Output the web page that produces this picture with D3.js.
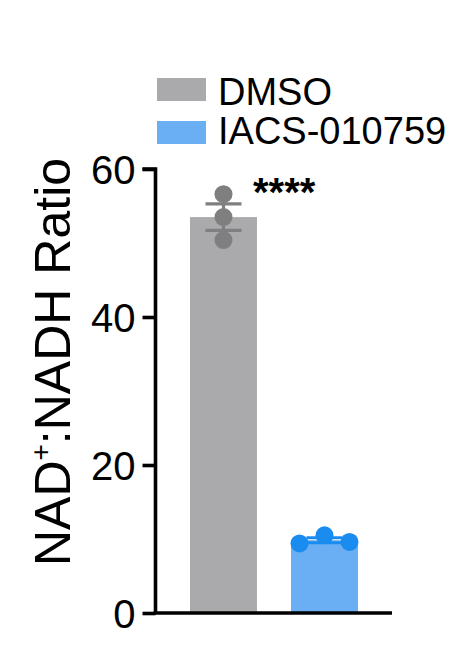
<!DOCTYPE html>
<html>
<head>
<meta charset="utf-8">
<script src="https://cdn.jsdelivr.net/npm/d3@7"></script>
<style>
  html, body { margin: 0; padding: 0; background: #fff; }
  svg { display: block; font-family: "Liberation Sans", Arial, Helvetica, sans-serif; }
</style>
</head>
<body>
<svg id="chart" width="458" height="664"></svg>
<script>
// ---- data ----
const categories = ["DMSO", "IACS-010759"];
const dmsoValues = [56.6, 53.5, 50.4];
const iacsValues = [9.4, 10.5, 9.6];
const yTicks = [0, 20, 40, 60];
const significance = "****";
const yTitle = ["NAD", "+", ":NADH Ratio"];

// ---- style ----
const barColors = ["#aaaaac", "#6aaff4"];
const dotColors = ["#7f7f7f", "#1a8cef"];
const series = [dmsoValues, iacsValues];
const dotSpread = [[0, 0, 0], [-1, 0, 1]]; // horizontal spreading of overlapping dots (x step units)

const svg = d3.select("#chart");

const y = d3.scaleLinear().domain([0, 60]).range([613, 169]);
const x = d3.scaleBand().domain(categories).range([190, 358]).paddingInner(0.337).paddingOuter(0);

const mean = a => d3.mean(a);
const sem = a => d3.deviation(a) / Math.sqrt(a.length);

// bars
svg.append("g").selectAll("rect")
  .data(categories)
  .join("rect")
  .attr("x", d => x(d))
  .attr("width", x.bandwidth())
  .attr("y", (d, i) => y(mean(series[i])))
  .attr("height", (d, i) => y(0) - y(mean(series[i])))
  .attr("fill", (d, i) => barColors[i]);

// dots
categories.forEach((c, i) => {
  const cx = x(c) + x.bandwidth() / 2;
  svg.append("g").selectAll("circle")
    .data(series[i])
    .join("circle")
    .attr("cx", (d, j) => cx + dotSpread[i][j] * 25)
    .attr("cy", d => y(d))
    .attr("r", 9)
    .attr("fill", dotColors[i]);
});

// error bars (mean ± SEM)
categories.forEach((c, i) => {
  const cx = x(c) + x.bandwidth() / 2;
  const m = mean(series[i]), s = sem(series[i]);
  const g = svg.append("g").attr("stroke", dotColors[i]).attr("stroke-width", 3.2);
  g.append("line").attr("x1", cx).attr("x2", cx).attr("y1", y(m + s)).attr("y2", y(m - s));
  [m + s, m - s].forEach(v => {
    g.append("line").attr("x1", cx - 18).attr("x2", cx + 18).attr("y1", y(v)).attr("y2", y(v));
  });
});

// y axis
const yAxis = d3.axisLeft(y).tickValues(yTicks).tickSize(13).tickPadding(7).tickFormat(d3.format("d"));
const ga = svg.append("g").attr("transform", "translate(155.5,0)").call(yAxis);
ga.select(".domain").attr("stroke", "#000").attr("stroke-width", 3.6).attr("d", `M-13,${y(60)}H0V${y(0)}`);
ga.selectAll(".tick line").attr("stroke", "#000").attr("stroke-width", 3.6);
ga.selectAll(".tick text").attr("fill", "#000").style("font-size", "40px")
  .style("font-family", "'Liberation Sans', Arial, sans-serif").attr("dy", "0.36em");

// x axis line
svg.append("line")
  .attr("x1", 153.7).attr("x2", 392)
  .attr("y1", y(0)).attr("y2", y(0))
  .attr("stroke", "#000").attr("stroke-width", 3.6);

// y title
const t = svg.append("text")
  .attr("transform", "translate(70,362) rotate(-90)")
  .attr("text-anchor", "middle")
  .style("font-size", "50px")
  .attr("fill", "#000");
t.append("tspan").text(yTitle[0]);
t.append("tspan").text(yTitle[1]).style("font-size", "28px").attr("dy", -20);
t.append("tspan").text(yTitle[2]).attr("dy", 20);

// significance
svg.append("text")
  .attr("x", 253).attr("y", 206)
  .style("font-size", "40px").style("font-weight", "bold")
  .attr("fill", "#000")
  .text(significance);

// legend
const legend = svg.append("g");
categories.forEach((c, i) => {
  legend.append("rect").attr("x", 157).attr("y", 78 + i * 43).attr("width", 49).attr("height", 23).attr("fill", barColors[i]);
  legend.append("text").attr("x", 218).attr("y", 105 + i * 38.5)
    .style("font-size", "38px").attr("fill", "#000").text(c);
});
</script>
</body>
</html>
